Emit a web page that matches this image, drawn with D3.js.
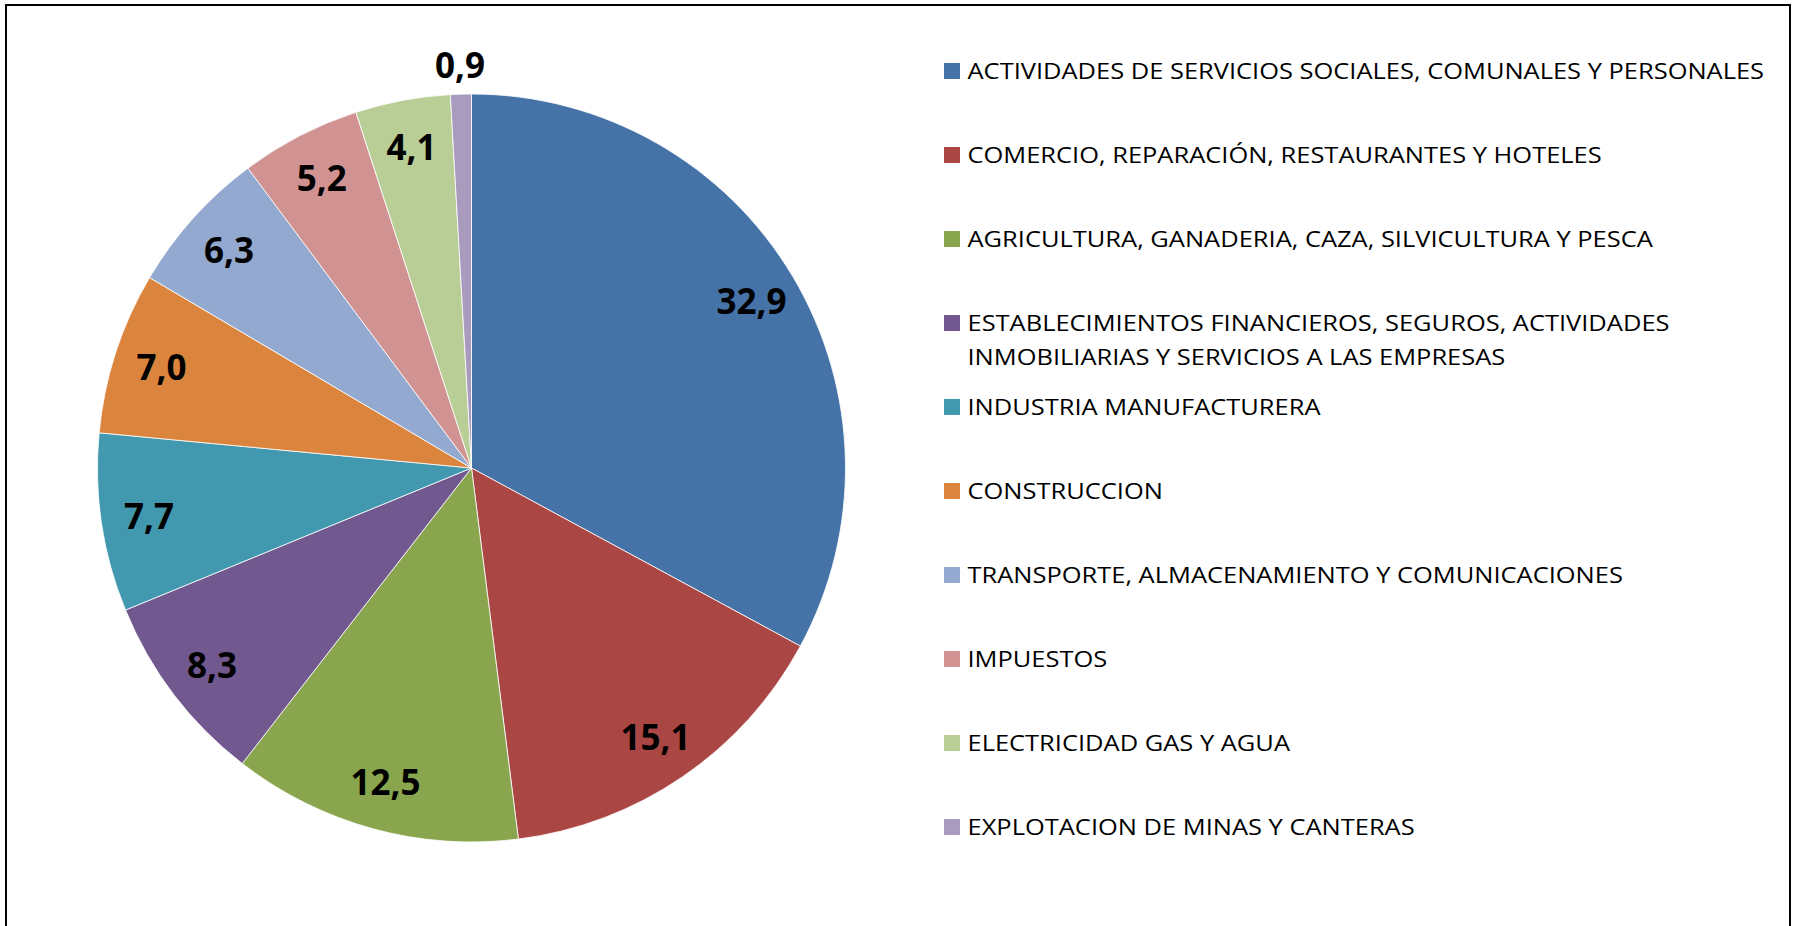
<!DOCTYPE html>
<html>
<head>
<meta charset="utf-8">
<script src="https://cdn.jsdelivr.net/npm/d3@7"></script>
<style>
  body { margin: 0; background: #fff; }
  svg { display: block; }
</style>
</head>
<body>
<svg id="chart"></svg>
<script>
// sectors of the economy, share in percent
const categories = [
  "ACTIVIDADES DE SERVICIOS SOCIALES, COMUNALES Y PERSONALES",
  "COMERCIO, REPARACIÓN, RESTAURANTES Y HOTELES",
  "AGRICULTURA, GANADERIA, CAZA, SILVICULTURA Y PESCA",
  "ESTABLECIMIENTOS FINANCIEROS, SEGUROS, ACTIVIDADES|INMOBILIARIAS Y SERVICIOS A LAS EMPRESAS",
  "INDUSTRIA MANUFACTURERA",
  "CONSTRUCCION",
  "TRANSPORTE, ALMACENAMIENTO Y COMUNICACIONES",
  "IMPUESTOS",
  "ELECTRICIDAD GAS Y AGUA",
  "EXPLOTACION DE MINAS Y CANTERAS"
];
const values = [32.9, 15.1, 12.5, 8.3, 7.7, 7.0, 6.3, 5.2, 4.1, 0.9];
const colors = ["#4572A7", "#AA4643", "#89A54E", "#71588F", "#4198AF",
                "#DB843D", "#93A9CF", "#D19392", "#B9CD96", "#A99BBD"];

const width = 1795, height = 926;
const svg = d3.select("#chart").attr("width", width).attr("height", height);

// chart frame (bottom edge runs off the picture)
svg.append("rect")
  .attr("x", 6).attr("y", 5)
  .attr("width", 1784).attr("height", 960)
  .attr("fill", "none").attr("stroke", "#000").attr("stroke-width", 2);

const data = categories.map((c, i) => ({ name: c, value: values[i], color: colors[i] }));

const cx = 471.5, cy = 468, radius = 374;
const pie = d3.pie().sort(null).value(d => d.value);
const arc = d3.arc().innerRadius(0).outerRadius(radius);
const labelArc = d3.arc().innerRadius(326).outerRadius(326);
const outerArc = d3.arc().innerRadius(403).outerRadius(403);

const pieGroup = svg.append("g").attr("transform", `translate(${cx},${cy})`);
const arcs = pie(data);

pieGroup.selectAll(".slice")
  .data(arcs)
  .enter()
  .append("path")
  .attr("class", "slice")
  .attr("d", arc)
  .attr("fill", d => d.data.color)
  .attr("stroke", "#fff")
  .attr("stroke-width", 0.8);

// data labels
pieGroup.selectAll(".label")
  .data(arcs)
  .enter()
  .append("text")
  .attr("class", "label")
  .attr("transform", d => {
    const p = d.data.value < 2 ? outerArc.centroid(d) : labelArc.centroid(d);
    return `translate(${p[0]},${p[1]})`;
  })
  .attr("text-anchor", "middle")
  .attr("dy", "0.36em")
  .style("font-family", "'Open Sans', sans-serif")
  .style("font-weight", "bold")
  .style("font-size", "35px")
  .attr("fill", "#000")
  .text(d => d.data.value.toFixed(1).replace(".", ","));

// legend
const legendY = d3.scalePoint()
  .domain(d3.range(categories.length))
  .range([71, 71 + 84 * (categories.length - 1)]);

const legend = svg.append("g").attr("class", "legend");
const rows = legend.selectAll(".row")
  .data(data)
  .enter()
  .append("g")
  .attr("class", "row")
  .attr("transform", (d, i) => `translate(944,${legendY(i)})`);

rows.append("rect")
  .attr("x", 0).attr("y", -8)
  .attr("width", 16).attr("height", 16)
  .attr("fill", d => d.color);

const texts = rows.append("text")
  .attr("x", 0)
  .attr("y", 8)
  .style("font-family", "'Open Sans', sans-serif")
  .style("font-size", "22.5px")
  .attr("fill", "#000");

texts.selectAll("tspan")
  .data(d => d.name.split("|"))
  .enter()
  .append("tspan")
  .attr("x", 0)
  .attr("dy", (d, i) => i === 0 ? 0 : 34)
  .text(d => d);

// squeeze the legend text to the narrow width of the original face
const firstW = texts.node().getComputedTextLength();
const sx = 797 / firstW;
texts.attr("transform", `translate(23.5,0) scale(${sx},1)`);
</script>
</body>
</html>
